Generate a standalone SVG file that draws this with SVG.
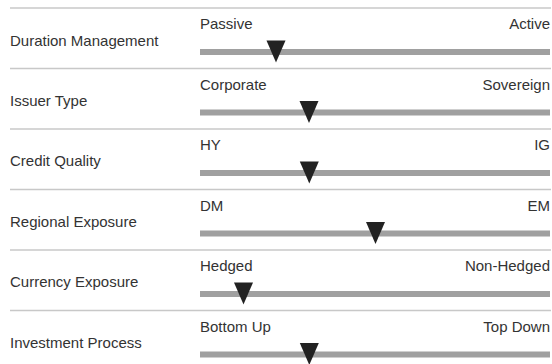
<svg xmlns="http://www.w3.org/2000/svg" width="552" height="364" viewBox="0 0 552 364">
<style>
.sep{stroke:#c8c8c8;stroke-width:1.5}
.bar{fill:#a0a0a0}
.tri{fill:#222}
text{font-family:"Liberation Sans",Arial,sans-serif;font-size:15px;fill:#333}
.r{text-anchor:end}
</style>
<rect width="552" height="364" fill="#fff"/>
<g id="separators">
<line class="sep" x1="10" y1="8" x2="551" y2="8"/>
<line class="sep" x1="10" y1="68.5" x2="551" y2="68.5"/>
<line class="sep" x1="10" y1="129" x2="551" y2="129"/>
<line class="sep" x1="10" y1="189.5" x2="551" y2="189.5"/>
<line class="sep" x1="10" y1="250" x2="551" y2="250"/>
<line class="sep" x1="10" y1="310.5" x2="551" y2="310.5"/>
</g>
<g id="row-duration">
<text x="10" y="45.5">Duration Management</text>
<text x="200" y="29">Passive</text>
<text class="r" x="550" y="29">Active</text>
<rect class="bar" x="200" y="49" width="350" height="6"/>
<polygon class="tri" points="266.5,40.5 285.5,40.5 276,62.5"/>
</g>
<g id="row-issuer">
<text x="10" y="106">Issuer Type</text>
<text x="200" y="89.5">Corporate</text>
<text class="r" x="550" y="89.5">Sovereign</text>
<rect class="bar" x="200" y="109.5" width="350" height="6"/>
<polygon class="tri" points="299.5,101 318.5,101 309,123"/>
</g>
<g id="row-credit">
<text x="10" y="166">Credit Quality</text>
<text x="200" y="150">HY</text>
<text class="r" x="550" y="150">IG</text>
<rect class="bar" x="200" y="170" width="350" height="6"/>
<polygon class="tri" points="299.8,161.5 318.8,161.5 309.3,183.5"/>
</g>
<g id="row-regional">
<text x="10" y="226.5">Regional Exposure</text>
<text x="200" y="210.5">DM</text>
<text class="r" x="550" y="210.5">EM</text>
<rect class="bar" x="200" y="230.5" width="350" height="6"/>
<polygon class="tri" points="366,222 385,222 375.5,244"/>
</g>
<g id="row-currency">
<text x="10" y="287">Currency Exposure</text>
<text x="200" y="271">Hedged</text>
<text class="r" x="550" y="271">Non-Hedged</text>
<rect class="bar" x="200" y="291" width="350" height="6"/>
<polygon class="tri" points="234,282.5 253,282.5 243.5,304.5"/>
</g>
<g id="row-investment">
<text x="10" y="347.5">Investment Process</text>
<text x="200" y="331.5">Bottom Up</text>
<text class="r" x="550" y="331.5">Top Down</text>
<rect class="bar" x="200" y="351.5" width="350" height="6"/>
<polygon class="tri" points="299.8,343 318.8,343 309.3,365"/>
</g>
</svg>
